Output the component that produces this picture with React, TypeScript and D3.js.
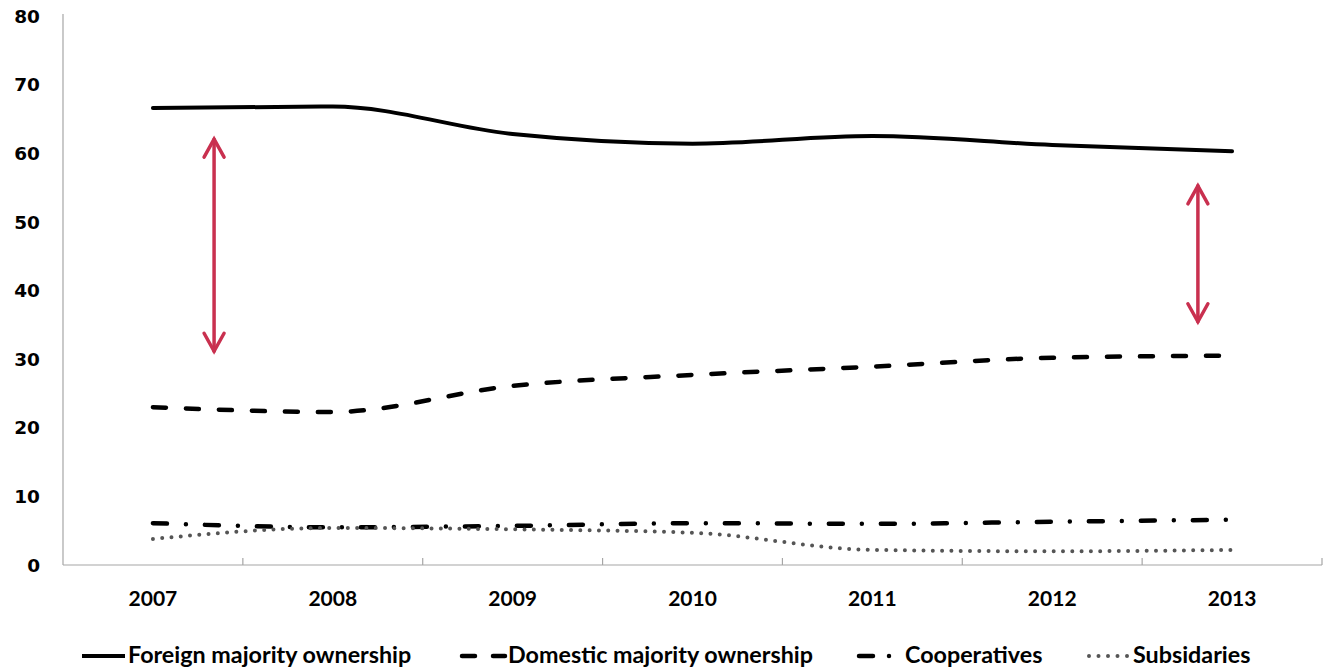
import { useEffect, useRef } from 'react';
import * as d3 from 'd3';

// categories and series
const years = ['2007', '2008', '2009', '2010', '2011', '2012', '2013'];
const foreignMajority = [66.6, 66.8, 62.8, 61.4, 62.5, 61.2, 60.3];
const domesticMajority = [23.0, 22.3, 26.1, 27.7, 28.9, 30.2, 30.5];
const cooperatives = [6.1, 5.5, 5.7, 6.1, 6.0, 6.3, 6.6];
const subsidiaries = [3.8, 5.4, 5.2, 4.7, 2.2, 2.0, 2.2];
const yTicks = [0, 10, 20, 30, 40, 50, 60, 70, 80];

// gap arrows: year, offset within band (fraction), from/to values
const gapArrows = [
  { year: '2007', offset: 0.34, from: 31.0, to: 62.2 },
  { year: '2013', offset: -0.19, from: 35.3, to: 55.4 },
];

const series = [
  { name: 'Foreign majority ownership', values: foreignMajority, color: '#000', width: 4, dash: null, legendDash: null },
  { name: 'Domestic majority ownership', values: domesticMajority, color: '#000', width: 4.5, dash: '13,20', legendDash: '13,18' },
  { name: 'Cooperatives', values: cooperatives, color: '#000', width: 4.5, dash: '14,19,0,19', legendDash: '14,16,0,10' },
  { name: 'Subsidaries', values: subsidiaries, color: '#555', width: 4, dash: '0,9.3', legendDash: '0,9.5' },
];

const W = 1325;
const H = 669;

const App = () => {
  const ref = useRef<SVGSVGElement>(null);

  useEffect(() => {
    if (!ref.current) return;
    const svg = d3.select(ref.current);
    svg.selectAll('*').remove();

    const left = 63, right = 1322, top = 16, bottom = 565;

    const x = d3.scaleBand().domain(years).range([left, right]).padding(0);
    const y = d3.scaleLinear().domain([0, 80]).range([bottom, top]);
    const cx = (yr: string) => (x(yr) as number) + x.bandwidth() / 2;

    // axes
    svg.append('line')
      .attr('x1', left).attr('x2', left).attr('y1', 14).attr('y2', bottom)
      .attr('stroke', '#a6a6a6').attr('stroke-width', 1.2);
    svg.append('line')
      .attr('x1', left).attr('x2', right).attr('y1', bottom).attr('y2', bottom)
      .attr('stroke', '#a6a6a6').attr('stroke-width', 1.2);

    const bounds = years.map(yr => x(yr) as number).concat([right]);
    svg.append('g').selectAll('line').data(bounds.slice(1)).join('line')
      .attr('x1', d => d).attr('x2', d => d)
      .attr('y1', bottom).attr('y2', bottom - 7)
      .attr('stroke', '#a6a6a6').attr('stroke-width', 1.2);

    svg.append('g').selectAll('text').data(yTicks).join('text')
      .attr('x', 40).attr('y', d => y(d)).attr('dy', '0.36em')
      .attr('text-anchor', 'end')
      .style('font-family', '"DejaVu Sans", Verdana, sans-serif')
      .style('font-weight', 'bold').style('font-size', '18.5px')
      .attr('fill', '#000')
      .text(d => d);

    svg.append('g').selectAll('text').data(years).join('text')
      .attr('x', d => cx(d)).attr('y', 606)
      .attr('text-anchor', 'middle')
      .style('font-family', 'Lato, sans-serif')
      .style('font-weight', 'bold').style('font-size', '21px')
      .attr('fill', '#000')
      .text(d => d);

    // series lines (smoothed, no overshoot)
    const line = d3.line<number>()
      .x((_, i) => cx(years[i]))
      .y(d => y(d))
      .curve(d3.curveMonotoneX);

    series.forEach(s => {
      svg.append('path')
        .datum(s.values)
        .attr('fill', 'none')
        .attr('stroke', s.color)
        .attr('stroke-width', s.width)
        .attr('stroke-linecap', 'round')
        .attr('stroke-linejoin', 'round')
        .attr('stroke-dasharray', s.dash)
        .attr('d', line);
    });

    // double-headed gap arrows
    const red = '#c9304f';
    gapArrows.forEach(a => {
      const ax = cx(a.year) + a.offset * x.bandwidth();
      const y1 = y(a.to), y2 = y(a.from);
      const g = svg.append('g')
        .attr('stroke', red).attr('stroke-width', 3.5).attr('fill', 'none')
        .attr('stroke-linecap', 'round').attr('stroke-linejoin', 'miter');
      g.append('line').attr('x1', ax).attr('x2', ax).attr('y1', y1 + 1).attr('y2', y2 - 1);
      g.append('path').attr('d', `M${ax - 10},${y1 + 19}L${ax},${y1 + 1}L${ax + 10},${y1 + 19}`);
      g.append('path').attr('d', `M${ax - 10},${y2 - 19}L${ax},${y2 - 1}L${ax + 10},${y2 - 19}`);
    });

    // legend
    const legendY = 656;
    const legendPos = [
      { x0: 82, x1: 125, tx: 128 },
      { x0: 462, x1: 505, tx: 508 },
      { x0: 859, x1: 895, tx: 905 },
      { x0: 1089, x1: 1130, tx: 1133 },
    ];
    series.forEach((s, i) => {
      const p = legendPos[i];
      svg.append('line')
        .attr('x1', p.x0).attr('x2', p.x1).attr('y1', legendY).attr('y2', legendY)
        .attr('stroke', s.color).attr('stroke-width', s.width)
        .attr('stroke-linecap', s.dash ? 'round' : 'butt')
        .attr('stroke-dasharray', s.legendDash);
      svg.append('text')
        .attr('x', p.tx).attr('y', 663)
        .style('font-family', 'Lato, sans-serif')
        .style('font-weight', 'bold').style('font-size', '23.3px')
        .attr('fill', '#000')
        .text(s.name);
    });
  }, []);

  return (
    <div style={{ position: 'absolute', left: 0, top: 0, background: '#fff' }}>
      <svg ref={ref} width={W} height={H} viewBox={`0 0 ${W} ${H}`} style={{ display: 'block' }} />
    </div>
  );
};

export default App;
